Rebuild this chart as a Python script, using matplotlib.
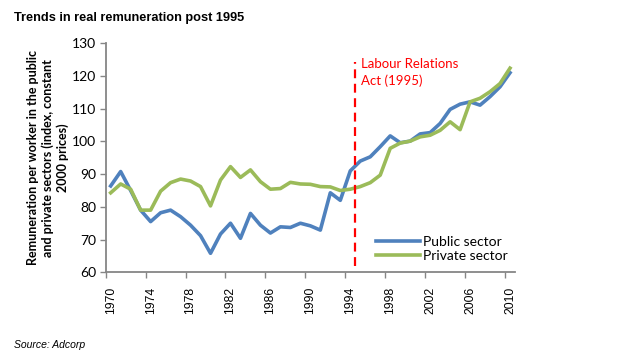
import numpy as np
from matplotlib import pyplot as plt

# 年份和两条序列
years = list(range(1970, 2011))
public_sector = [86.4, 90.8, 85.0, 79.0, 75.5, 78.2, 79.0, 77.0, 74.4, 71.2,
                 65.8, 71.7, 75.0, 70.4, 78.0, 74.4, 72.0, 73.9, 73.7, 75.0,
                 74.2, 72.9, 84.3, 82.0, 91.0, 94.0, 95.3, 98.4, 101.7, 99.6,
                 100.1, 102.3, 102.7, 105.5, 109.8, 111.4, 112.1, 111.1, 113.7, 116.7,
                 121.0]
private_sector = [84.3, 87.0, 85.4, 79.0, 79.0, 84.8, 87.4, 88.5, 87.9, 86.2,
                  80.3, 88.2, 92.3, 89.0, 91.3, 87.7, 85.4, 85.6, 87.5, 87.0,
                  86.9, 86.2, 86.1, 85.0, 85.4, 86.2, 87.4, 89.7, 97.9, 99.5,
                  100.1, 101.4, 101.9, 103.4, 106.0, 103.6, 112.1, 113.2, 115.2, 117.7,
                  122.4]
series_names = ['Public sector', 'Private sector']
y_ticks = [60, 70, 80, 90, 100, 110, 120, 130]
act_year = 1995
act_label = 'Labour Relations\nAct (1995)'
title = 'Trends in real remuneration post 1995'
y_label = 'Remuneration per worker in the public\nand private sectors (index, constant\n2000 prices)'
source = 'Source: Adcorp'

calibri_like = 'Lato'
arial_like = 'Liberation Sans'
axis_grey = '#868686'

fig = plt.figure(figsize=(6.25, 3.56), dpi=100)
ax = fig.add_axes([105.7 / 625, 1 - 272.3 / 356, (515 - 105.7) / 625, (272.3 - 43.3) / 356])

x = np.arange(len(years))
ax.plot(x, public_sector, color='#4F81BD', linewidth=2.6, solid_joinstyle='round', label=series_names[0])
ax.plot(x, private_sector, color='#9BBB59', linewidth=2.6, solid_joinstyle='round', label=series_names[1])

# 法案那一年的竖虚线
act_x = years.index(act_year) - 0.5
ax.plot([act_x, act_x], [62, 124.4], color='#FF0000', linewidth=1.6, linestyle=(0, (4, 2.5)))
ax.text(act_x + 0.55, 125.5, act_label, color='#FF0000', fontsize=9.5, family=calibri_like,
        va='top', ha='left', linespacing=1.45)

ax.set_xlim(-0.5, len(years) - 0.5)
ax.set_ylim(60, 130)
ax.set_yticks(y_ticks)
ax.set_yticklabels([str(v) for v in y_ticks], fontsize=10, family=calibri_like)
ax.tick_params(axis='y', direction='out', length=4, width=1, color=axis_grey, pad=3)

label_idx = list(range(0, len(years), 4))
ax.set_xticks(label_idx)
ax.set_xticklabels([str(years[i]) for i in label_idx], rotation=90, fontsize=8.7, family=arial_like)
ax.tick_params(axis='x', which='major', length=0, pad=10.5)
ax.set_xticks([i - 0.5 for i in label_idx], minor=True)
ax.tick_params(axis='x', which='minor', direction='out', length=4, width=1, color=axis_grey)

for side in ['top', 'right']:
    ax.spines[side].set_visible(False)
for side in ['left', 'bottom']:
    ax.spines[side].set_color(axis_grey)
    ax.spines[side].set_linewidth(1.3)

ax.set_ylabel(y_label, fontsize=9, family=calibri_like, fontweight='bold', linespacing=1.2)
ax.yaxis.set_label_coords(-37 / 409.3, 0.5)

leg = ax.legend(loc='upper left', bbox_to_anchor=(376 / 625, 1 - 235.5 / 356), bbox_transform=fig.transFigure,
                frameon=False, prop={'family': calibri_like, 'size': 10}, handlelength=3.2,
                handletextpad=0.2, labelspacing=0.15, borderpad=0, borderaxespad=0)

fig.text(14 / 625, 1 - 18 / 356, title, fontsize=9.2, fontweight='bold', family=arial_like, va='center')
fig.text(14 / 625, 1 - 345 / 356, source, fontsize=7.5, style='italic', family=arial_like, va='center')

plt.savefig('out.png', dpi=100)
